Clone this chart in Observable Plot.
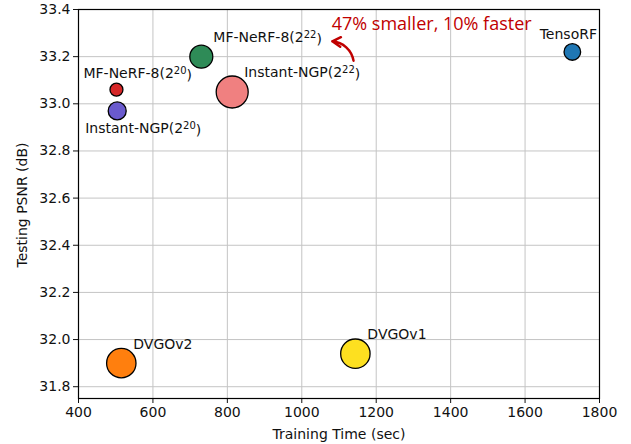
<!DOCTYPE html>
<html>
<head>
<meta charset="utf-8">
<script src="https://cdn.jsdelivr.net/npm/d3@7"></script>
<script src="https://cdn.jsdelivr.net/npm/@observablehq/plot@0.6"></script>
<style>
  body { margin: 0; background: #fff; }
  #chart svg { display: block; }
</style>
</head>
<body>
<div id="chart"></div>
<script>
// ---- data ----
const methods = ["TensoRF", "MF-NeRF-8(2²²)", "Instant-NGP(2²²)", "MF-NeRF-8(2²⁰)", "Instant-NGP(2²⁰)", "DVGOv2", "DVGOv1"];
const trainTime = [1727, 730, 813, 502, 504, 515, 1144];
const psnr = [33.22, 33.20, 33.05, 33.06, 32.97, 31.90, 31.94];
const bubbleSize = [69, 132, 256, 42, 81, 216, 216];
const colors = ["#1f77b4", "#2e8b57", "#f08080", "#d62728", "#6a5acd", "#ff7f0e", "#fde020"];
// label placement side for each method
const labelSide = ["above", "upright", "upright", "upleft", "downleft", "upright", "upright"];

const xTicks = [400, 600, 800, 1000, 1200, 1400, 1600, 1800];
const yTicks = [31.8, 32.0, 32.2, 32.4, 32.6, 32.8, 33.0, 33.2, 33.4];

const annotationText = ["47% smaller, 10% faster"];
const annotationPos = [{x: 1349, y: 33.338}];
const arrowFrom = [{x: 1139, y: 33.183}];
const arrowTo = [{x: 1082, y: 33.265}];

const rows = methods.map((m, i) => ({
  method: m, time: trainTime[i], psnr: psnr[i], size: bubbleSize[i], color: colors[i], side: labelSide[i]
}));

const offsets = {
  above:   {dx: -4, dy: -17, anchor: "middle"},
  upright: {dx: 12, dy: -19, anchor: "start"},
  upleft:  {dx: -33, dy: -16, anchor: "start"},
  downleft:{dx: -32, dy: 18, anchor: "start"}
};
const labelMarks = Object.entries(offsets).map(([side, o]) =>
  Plot.text(rows.filter(d => d.side === side), {
    x: "time", y: "psnr", text: "method",
    dx: o.dx, dy: o.dy, textAnchor: o.anchor,
    fontSize: 14, fill: "#111"
  })
);

const chart = Plot.plot({
  width: 631,
  height: 444,
  marginLeft: 78,
  marginRight: 32,
  marginTop: 9,
  marginBottom: 46,
  style: {fontFamily: "DejaVu Sans", fontSize: "14px", color: "#111", background: "#fff"},
  x: {domain: [400, 1800], ticks: xTicks},
  y: {domain: [31.75, 33.4], ticks: yTicks, tickFormat: d3.format(".1f")},
  r: {type: "sqrt", domain: [0, 256], range: [0, 16]},
  marks: [
    Plot.gridX(xTicks, {stroke: "#c4c4c4", strokeOpacity: 1, strokeWidth: 1}),
    Plot.gridY(yTicks, {stroke: "#c4c4c4", strokeOpacity: 1, strokeWidth: 1}),
    Plot.axisX({ticks: xTicks, tickSize: 5, tickPadding: 4, fontSize: 14, label: null, tickFormat: d => String(d)}),
    Plot.axisY({ticks: yTicks, tickSize: 5, tickPadding: 3, fontSize: 14, label: null, tickFormat: d3.format(".1f")}),
    Plot.frame({stroke: "#000", strokeWidth: 1.2}),
    Plot.dot(rows, {x: "time", y: "psnr", r: "size", fill: "color", stroke: "#000", strokeWidth: 1.3, fillOpacity: 1}),
    ...labelMarks,
    Plot.text(annotationText, {x: annotationPos.map(d => d.x), y: annotationPos.map(d => d.y), text: d => d,
      fill: "#c00000", fontSize: 18, fontFamily: "Open Sans", textAnchor: "middle"}),
    Plot.arrow([0], {x1: arrowFrom[0].x, y1: arrowFrom[0].y, x2: arrowTo[0].x, y2: arrowTo[0].y,
      bend: -38, stroke: "#c00000", strokeWidth: 2.5, headLength: 8})
  ]
});

// render unicode superscripts as real superscript tspans
const supMap = {"²": "2", "⁰": "0"};
d3.select(chart).selectAll("text").each(function() {
  const t = this.textContent;
  const m = t.match(/^(.*\(2)([²⁰]+)(\))$/);
  if (!m || this.children.length) return;
  const el = d3.select(this);
  el.text(null);
  el.append("tspan").text(m[1]);
  el.append("tspan").attr("dy", "-0.45em").attr("font-size", 10)
    .text([...m[2]].map(c => supMap[c]).join(""));
  el.append("tspan").attr("dy", "0.45em").text(m[3]);
});

// axis titles as plain text inside the svg
const svg = d3.select(chart);
svg.append("text").attr("x", 339).attr("y", 439).attr("text-anchor", "middle")
  .attr("font-family", "DejaVu Sans").attr("font-size", 14).attr("fill", "#111").text("Training Time (sec)");
svg.append("text").attr("transform", "translate(27,205) rotate(-90)").attr("text-anchor", "middle")
  .attr("font-family", "DejaVu Sans").attr("font-size", 14).attr("fill", "#111").text("Testing PSNR (dB)");

document.getElementById("chart").append(chart);
</script>
</body>
</html>
